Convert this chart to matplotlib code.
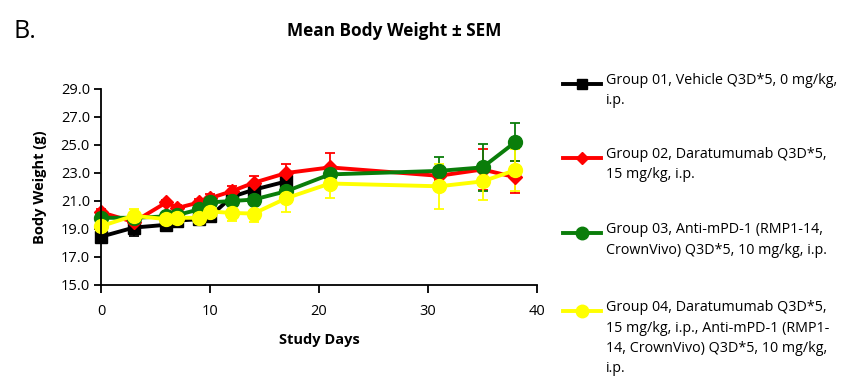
import numpy as np
import matplotlib
matplotlib.use("Agg")
import matplotlib.pyplot as plt
from matplotlib.lines import Line2D

plt.rcParams["font.family"] = ["Open Sans", "DejaVu Sans"]

# ── data ─────────────────────────────────────────────────────────────────────
days_g1 = [0, 3, 6, 7, 9, 10, 12, 14, 17]
days = [0, 3, 6, 7, 9, 10, 12, 14, 17, 21, 31, 35, 38]

g1_mean = [18.45, 19.1, 19.3, 19.6, 19.7, 19.9, 21.3, 21.8, 22.4]
g1_sem = [0.25, 0.6, 0.3, 0.3, 0.3, 0.3, 0.35, 0.4, 0.4]

g2_mean = [20.2, 19.5, 20.9, 20.5, 20.9, 21.2, 21.7, 22.3, 23.0, 23.4, 22.8, 23.25, 22.7]
g2_sem = [0.2, 0.3, 0.2, 0.2, 0.25, 0.3, 0.4, 0.5, 0.65, 1.05, 0.3, 1.45, 1.15]

g3_mean = [19.8, 19.8, 19.9, 20.0, 20.4, 20.9, 21.0, 21.1, 21.7, 22.9, 23.15, 23.4, 25.2]
g3_sem = [0.25, 0.3, 0.25, 0.25, 0.3, 0.3, 0.3, 0.3, 0.35, 0.4, 1.0, 1.65, 1.35]

g4_mean = [19.2, 19.95, 19.7, 19.8, 19.8, 20.25, 20.15, 20.1, 21.2, 22.25, 22.05, 22.4, 23.2]
g4_sem = [0.3, 0.5, 0.3, 0.3, 0.3, 0.4, 0.6, 0.6, 1.0, 1.05, 1.6, 1.3, 1.5]

labels = [
    "Group 01, Vehicle Q3D*5, 0 mg/kg,\ni.p.",
    "Group 02, Daratumumab Q3D*5,\n15 mg/kg, i.p.",
    "Group 03, Anti-mPD-1 (RMP1-14,\nCrownVivo) Q3D*5, 10 mg/kg, i.p.",
    "Group 04, Daratumumab Q3D*5,\n15 mg/kg, i.p., Anti-mPD-1 (RMP1-\n14, CrownVivo) Q3D*5, 10 mg/kg,\ni.p.",
]

series = [
    (days_g1, g1_mean, g1_sem, "#000000", "s", 8.5),
    (days, g2_mean, g2_sem, "#ff0000", "D", 7.5),
    (days, g3_mean, g3_sem, "#0a7d0a", "o", 10),
    (days, g4_mean, g4_sem, "#ffff00", "o", 10),
]

# ── plot ─────────────────────────────────────────────────────────────────────
fig = plt.figure(figsize=(8.48, 3.8), dpi=100, facecolor="white")
ax = fig.add_axes([101 / 848, 1 - 285 / 380, 436 / 848, 196 / 380])

for x, m, s, c, mk, ms in series:
    ax.errorbar(x, m, yerr=s, color=c, marker=mk, markersize=ms, linewidth=2.8,
                elinewidth=1.3, capsize=3.5, capthick=1.3, clip_on=False)

ax.set_xlim(0, 40)
ax.set_ylim(15, 29)
ax.set_xticks([0, 10, 20, 30, 40])
ax.set_yticks(np.arange(15, 29.1, 2))
ax.yaxis.set_major_formatter(plt.FuncFormatter(lambda v, _: f"{v:.1f}"))
for side in ["top", "right"]:
    ax.spines[side].set_visible(False)
for side in ["left", "bottom"]:
    ax.spines[side].set_linewidth(1.3)
ax.tick_params(direction="out", length=5, width=1.3, labelsize=10.5, pad=3)
ax.tick_params(axis="x", length=6, pad=8)
ax.set_xlabel("Study Days", fontsize=10.5, fontweight="bold", labelpad=10)
ax.set_ylabel("Body Weight (g)", fontsize=10.5, fontweight="bold", labelpad=10)

fig.text(394 / 848, 1 - 31 / 380, "Mean Body Weight ± SEM", ha="center", va="center",
         fontsize=12.4, fontweight="bold")
fig.text(13 / 848, 1 - 31 / 380, "B.", ha="left", va="center", fontsize=18)

# ── legend (handles aligned with first label line) ──────────────────────────
legend_y = [84, 158, 233, 311]
for (x, m, s, c, mk, ms), lab, ly in zip(series, labels, legend_y):
    yf = 1 - ly / 380
    fig.add_artist(Line2D([563 / 848, 582 / 848, 601 / 848], [yf, yf, yf],
                          transform=fig.transFigure, color=c, linewidth=2.8,
                          marker=mk, markersize=ms - 1, markevery=[1]))
    fig.text(606 / 848, yf + 11 / 380, lab, ha="left", va="top", fontsize=10.3,
             linespacing=1.5)

plt.savefig("out.png", dpi=100, facecolor="white")
